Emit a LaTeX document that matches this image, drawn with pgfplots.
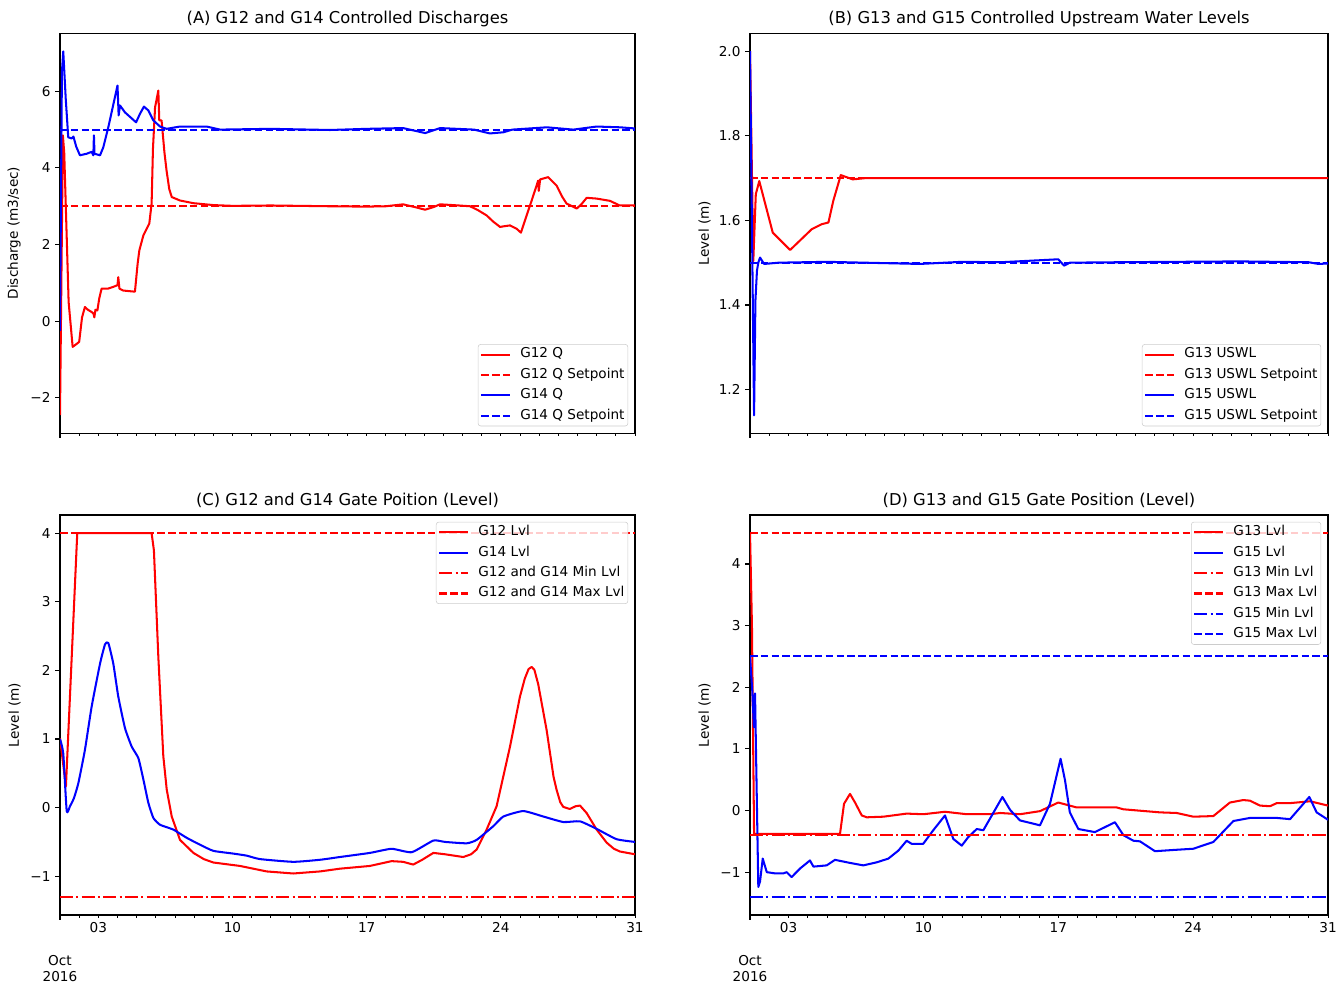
\documentclass[border=0pt]{standalone}
\usepackage{fontspec}
\setmainfont{DejaVu Sans}
\usepackage{pgfplots}
\pgfplotsset{compat=1.18}

\definecolor{mplred}{rgb}{1,0,0}
\definecolor{mplblue}{rgb}{0,0,1}

\pgfplotsset{
  mplax/.style={
    scale only axis, height=294pt,
    xmin=1, xmax=31,
    axis line style={line width=0.8pt},
    tick align=outside, tick pos=left,
    major tick length=3.5pt, minor tick length=2pt,
    every tick/.style={black, line width=0.8pt},
    every minor tick/.style={black, line width=0.6pt},
    xtick={1}, xticklabels={},
    minor xtick={2,...,31},
    extra x ticks={3,10,17,24,31},
    extra x tick labels={03,10,17,24,31},
    extra x tick style={major tick length=2pt, every tick/.style={black, line width=0.6pt}},
    ticklabel style={font=\fontsize{10}{12}\selectfont},
    label style={font=\fontsize{10}{12}\selectfont},
    ylabel style={at={(rel axis cs:-0.06,0.5)}, anchor=south},
    title style={at={(0.5,1)}, anchor=base, yshift=1.3pt, font=\fontsize{12}{14}\selectfont},
    legend cell align=left,
    legend image code/.code={\draw[#1] (0pt,0pt) -- (21pt,0pt);},
    legend style={draw=black!20, rounded corners=2pt, fill=white,
      fill opacity=0.8, text opacity=1, draw opacity=1,
      font=\fontsize{10}{12}\selectfont, inner sep=1.5pt, row sep=3pt,
      nodes={inner sep=1pt, text height=7.5pt, text depth=2.5pt},
      /tikz/every odd column/.append style={column sep=6pt}},
    after end axis/.code={\node[anchor=north, align=center, font=\fontsize{10}{12}\selectfont, yshift=-26pt] at (rel axis cs:0,0) {Oct\\2016};},
  },
  toprow/.style={extra x tick labels={}, after end axis/.code={}},
  ln/.style={line width=1.5pt, line join=round},
  dsh/.style={line width=1.5pt, dash pattern=on 5.55pt off 2.4pt},
  dshdot/.style={line width=1.5pt, dash pattern=on 9.6pt off 2.4pt on 1.5pt off 2.4pt},
}

\begin{document}
\begin{tikzpicture}
\path[use as bounding box] (0,0) rectangle (983.4pt,-722.5pt);

% (A)
\begin{axis}[mplax, toprow, at={(44.1pt,-318.3pt)}, anchor=south west, width=422.6pt,
  ymin=-2.92, ymax=7.52, ytick={-2,0,2,4,6}, yticklabels={−2,0,2,4,6},
  ylabel={Discharge (m3/sec)},
  title={(A) G12 and G14 Controlled Discharges},
  legend style={at={(1,0)}, anchor=south east, xshift=-5pt, yshift=5pt}]
\addplot[ln, mplred] coordinates {
(1,-2.45) (1.15,4.85) (1.22,4.4) (1.45,0.5) (1.66,-0.67) (1.85,-0.6) (2.0,-0.54)
(2.15,0.1) (2.30,0.37) (2.45,0.3) (2.65,0.24) (2.75,0.2) (2.79,0.1) (2.85,0.3)
(2.95,0.28) (3.05,0.6) (3.17,0.85) (3.5,0.85) (3.8,0.9) (4.0,0.94) (4.04,1.15)
(4.1,0.85) (4.3,0.8) (4.91,0.77) (5.05,1.5) (5.14,1.85) (5.35,2.24) (5.66,2.55)
(5.78,3.07) (5.85,4.5) (5.96,5.58) (6.13,6.02) (6.18,5.24) (6.30,5.24) (6.45,4.4)
(6.56,3.93) (6.7,3.45) (6.83,3.24) (7.26,3.15) (7.96,3.08) (9.0,3.03) (10,3.01)
(12,3.02) (15,3.0) (17,2.99) (18,3.0) (18.9,3.05) (19.5,2.98) (20.05,2.91)
(20.5,2.98) (20.83,3.05) (21.5,3.03) (22.39,3.0) (22.8,2.9) (23.26,2.76) (23.6,2.6)
(23.96,2.46) (24.2,2.48) (24.48,2.5) (24.83,2.41) (25.05,2.31) (25.26,2.63)
(25.61,3.15) (25.95,3.67) (25.98,3.4) (26.05,3.7) (26.47,3.76) (26.91,3.54)
(27.2,3.25) (27.43,3.07) (27.96,2.94) (28.2,3.05) (28.48,3.22) (29.0,3.2)
(29.7,3.14) (30.2,3.02) (31,3.02)};
\addlegendentry{G12 Q}
\addplot[dsh, mplred] coordinates {(1,3) (31,3)};
\addlegendentry{G12 Q Setpoint}
\addplot[ln, mplblue] coordinates {
(1,-0.25) (1.1,6.5) (1.17,7.04) (1.3,5.8) (1.43,4.80) (1.61,4.77) (1.7,4.82)
(1.85,4.55) (2.04,4.33) (2.39,4.37) (2.65,4.42) (2.74,4.33) (2.77,4.85) (2.80,4.37)
(3.09,4.33) (3.26,4.54) (3.52,5.06) (4.0,6.15) (4.06,5.37) (4.13,5.63) (4.39,5.45)
(4.97,5.19) (5.17,5.41) (5.38,5.60) (5.61,5.50) (5.87,5.24) (6.22,5.08) (6.56,5.02)
(7.26,5.08) (8.65,5.08) (9.35,5.0) (12,5.02) (15.09,4.99) (17,5.02) (18.9,5.04)
(20.05,4.91) (20.83,5.04) (22.6,5.0) (23.43,4.9) (24.13,4.93) (24.6,5.0)
(26.4,5.06) (27.78,5.0) (29.0,5.08) (30.22,5.06) (31,5.03)};
\addlegendentry{G14 Q}
\addplot[dsh, mplblue] coordinates {(1,5) (31,5)};
\addlegendentry{G14 Q Setpoint}
\end{axis}

% (B)
\begin{axis}[mplax, toprow, at={(551.25pt,-318.3pt)}, anchor=south west, width=424.8pt,
  ymin=1.097, ymax=2.043, ytick={1.2,1.4,1.6,1.8,2.0}, yticklabels={1.2,1.4,1.6,1.8,2.0},
  ylabel={Level (m)},
  title={(B) G13 and G15 Controlled Upstream Water Levels},
  legend style={at={(1,0)}, anchor=south east, xshift=-5pt, yshift=5pt}]
\addplot[ln, mplred] coordinates {
(1,2.0) (1.17,1.504) (1.3,1.662) (1.48,1.693) (2.18,1.571) (3.08,1.530)
(4.2,1.579) (4.72,1.591) (5.07,1.595) (5.32,1.646) (5.71,1.707) (5.84,1.705)
(6.33,1.697) (7,1.70) (31,1.70)};
\addlegendentry{G13 USWL}
\addplot[dsh, mplred] coordinates {(1,1.7) (31,1.7)};
\addlegendentry{G13 USWL Setpoint}
\addplot[ln, mplblue] coordinates {
(1,2.0) (1.21,1.139) (1.28,1.41) (1.36,1.481) (1.43,1.50) (1.52,1.512)
(1.73,1.497) (2.5,1.50) (5,1.502) (9.82,1.497) (12,1.502) (14,1.501)
(17.0,1.508) (17.3,1.493) (17.6,1.50) (20,1.501) (26.4,1.503) (30,1.501)
(30.5,1.497) (31,1.498)};
\addlegendentry{G15 USWL}
\addplot[dsh, mplblue] coordinates {(1,1.5) (31,1.5)};
\addlegendentry{G15 USWL Setpoint}
\end{axis}

% (C)
\begin{axis}[mplax, at={(44.1pt,-672.5pt)}, anchor=south west, width=422.6pt,
  ymin=-1.565, ymax=4.265, ytick={-1,0,1,2,3,4}, yticklabels={−1,0,1,2,3,4},
  ylabel={Level (m)},
  title={(C) G12 and G14 Gate Poition (Level)},
  legend style={at={(1,1)}, anchor=north east, xshift=-5pt, yshift=-5pt}]
\addplot[ln, mplred] coordinates {
(1,1.01) (1.31,0.31) (1.90,4.0) (5.78,4.0) (5.90,3.75) (6.13,2.2) (6.39,0.75)
(6.57,0.26) (6.83,-0.13) (7.26,-0.47) (7.96,-0.66) (8.5,-0.75) (9.0,-0.80) (10.39,-0.85)
(11.78,-0.93) (13.17,-0.96) (14.57,-0.93) (15.6,-0.89) (17.17,-0.85) (18.3,-0.78)
(18.9,-0.79) (19.43,-0.83) (19.9,-0.76) (20.48,-0.66) (21.09,-0.68) (22.04,-0.72)
(22.45,-0.68) (22.74,-0.61) (23.26,-0.32) (23.78,0.02) (24.48,0.89) (25.0,1.62)
(25.25,1.88) (25.45,2.02) (25.61,2.05) (25.75,2.01) (25.95,1.8) (26.39,1.13)
(26.75,0.45) (26.91,0.26) (27.1,0.08) (27.26,0.01) (27.6,-0.02) (27.9,0.02)
(28.13,0.03) (28.48,-0.08) (29.0,-0.32) (29.52,-0.51) (29.9,-0.6) (30.22,-0.64)
(31,-0.68)};
\addlegendentry{G12 Lvl}
\addplot[ln, mplblue, smooth, tension=0.3] coordinates {
(1,1.0) (1.17,0.79) (1.35,-0.05) (1.52,0.02) (1.73,0.14) (1.96,0.36) (2.3,0.84)
(2.65,1.47) (3.09,2.10) (3.35,2.38) (3.52,2.40) (3.78,2.10) (4.04,1.62) (4.39,1.16)
(4.74,0.89) (5.09,0.72) (5.35,0.41) (5.61,0.07) (5.87,-0.15) (6.22,-0.25)
(6.91,-0.32) (7.61,-0.44) (8.3,-0.54) (9.0,-0.63) (10.04,-0.67) (10.74,-0.70)
(11.43,-0.75) (13.17,-0.79) (14.57,-0.76) (15.6,-0.72) (17.17,-0.66) (18.3,-0.60)
(19.35,-0.65) (20.48,-0.48) (21.09,-0.50) (22.22,-0.52) (22.74,-0.47) (23.61,-0.27)
(24.13,-0.13) (25.17,-0.05) (26.22,-0.13) (27.26,-0.21) (28.13,-0.20) (29.0,-0.31)
(30.04,-0.46) (31,-0.50)};
\addlegendentry{G14 Lvl}
\addplot[dshdot, mplred] coordinates {(1,-1.3) (31,-1.3)};
\addlegendentry{G12 and G14 Min Lvl}
\addplot[dsh, mplred] coordinates {(1,4) (31,4)};
\addlegendentry{G12 and G14 Max Lvl}
\end{axis}

% (D)
\begin{axis}[mplax, at={(551.25pt,-672.5pt)}, anchor=south west, width=424.8pt,
  ymin=-1.695, ymax=4.795, ytick={-1,0,1,2,3,4}, yticklabels={−1,0,1,2,3,4},
  ylabel={Level (m)},
  title={(D) G13 and G15 Gate Position (Level)},
  legend style={at={(1,1)}, anchor=north east, xshift=-5pt, yshift=-5pt}]
\addplot[ln, mplred] coordinates {
(1,4.5) (1.1,3.0) (1.21,-0.38) (5.67,-0.38) (5.88,0.11) (6.19,0.27) (6.45,0.13)
(6.8,-0.08) (7.06,-0.11) (7.92,-0.10) (9.13,-0.05) (10.0,-0.06) (11.12,-0.02)
(12.25,-0.06) (13.46,-0.06) (13.98,-0.04) (15.01,-0.06) (16.05,-0.01) (17.0,0.13)
(17.95,0.05) (20.03,0.05) (20.38,0.02) (22.28,-0.03) (23.15,-0.04) (24.01,-0.10)
(25.05,-0.09) (25.91,0.13) (26.6,0.17) (26.95,0.16) (27.47,0.08) (27.99,0.07)
(28.34,0.12) (29.03,0.12) (30.07,0.15) (31,0.08)};
\addlegendentry{G13 Lvl}
\addplot[ln, mplblue] coordinates {
(1,2.5) (1.12,1.93) (1.2,1.35) (1.26,1.9) (1.43,-1.24) (1.52,-1.15) (1.66,-0.78)
(1.87,-1.0) (2.3,-1.02) (2.73,-1.02) (2.9,-1.0) (3.16,-1.08) (3.6,-0.94) (4.11,-0.81)
(4.29,-0.91) (4.98,-0.89) (5.41,-0.80) (6.19,-0.85) (6.88,-0.89) (7.58,-0.84)
(8.18,-0.78) (8.7,-0.65) (9.13,-0.49) (9.39,-0.54) (9.99,-0.54) (10.51,-0.32)
(11.12,-0.08) (11.55,-0.46) (11.99,-0.57) (12.33,-0.43) (12.77,-0.30) (13.11,-0.32)
(14.1,0.22) (14.5,0.01) (15.01,-0.16) (16.05,-0.24) (16.57,0.11) (17.12,0.84)
(17.35,0.49) (17.6,-0.03) (18.04,-0.30) (18.9,-0.35) (19.94,-0.19) (20.38,-0.40)
(20.9,-0.49) (21.24,-0.50) (22.02,-0.66) (22.97,-0.64) (24.01,-0.62) (25.05,-0.51)
(26.09,-0.17) (26.95,-0.12) (28.34,-0.12) (29.03,-0.14) (30.03,0.22) (30.41,-0.03)
(31,-0.15)};
\addlegendentry{G15 Lvl}
\addplot[dshdot, mplred] coordinates {(1,-0.4) (31,-0.4)};
\addlegendentry{G13 Min Lvl}
\addplot[dsh, mplred] coordinates {(1,4.5) (31,4.5)};
\addlegendentry{G13 Max Lvl}
\addplot[dshdot, mplblue] coordinates {(1,-1.4) (31,-1.4)};
\addlegendentry{G15 Min Lvl}
\addplot[dsh, mplblue] coordinates {(1,2.5) (31,2.5)};
\addlegendentry{G15 Max Lvl}
\end{axis}
\end{tikzpicture}
\end{document}
